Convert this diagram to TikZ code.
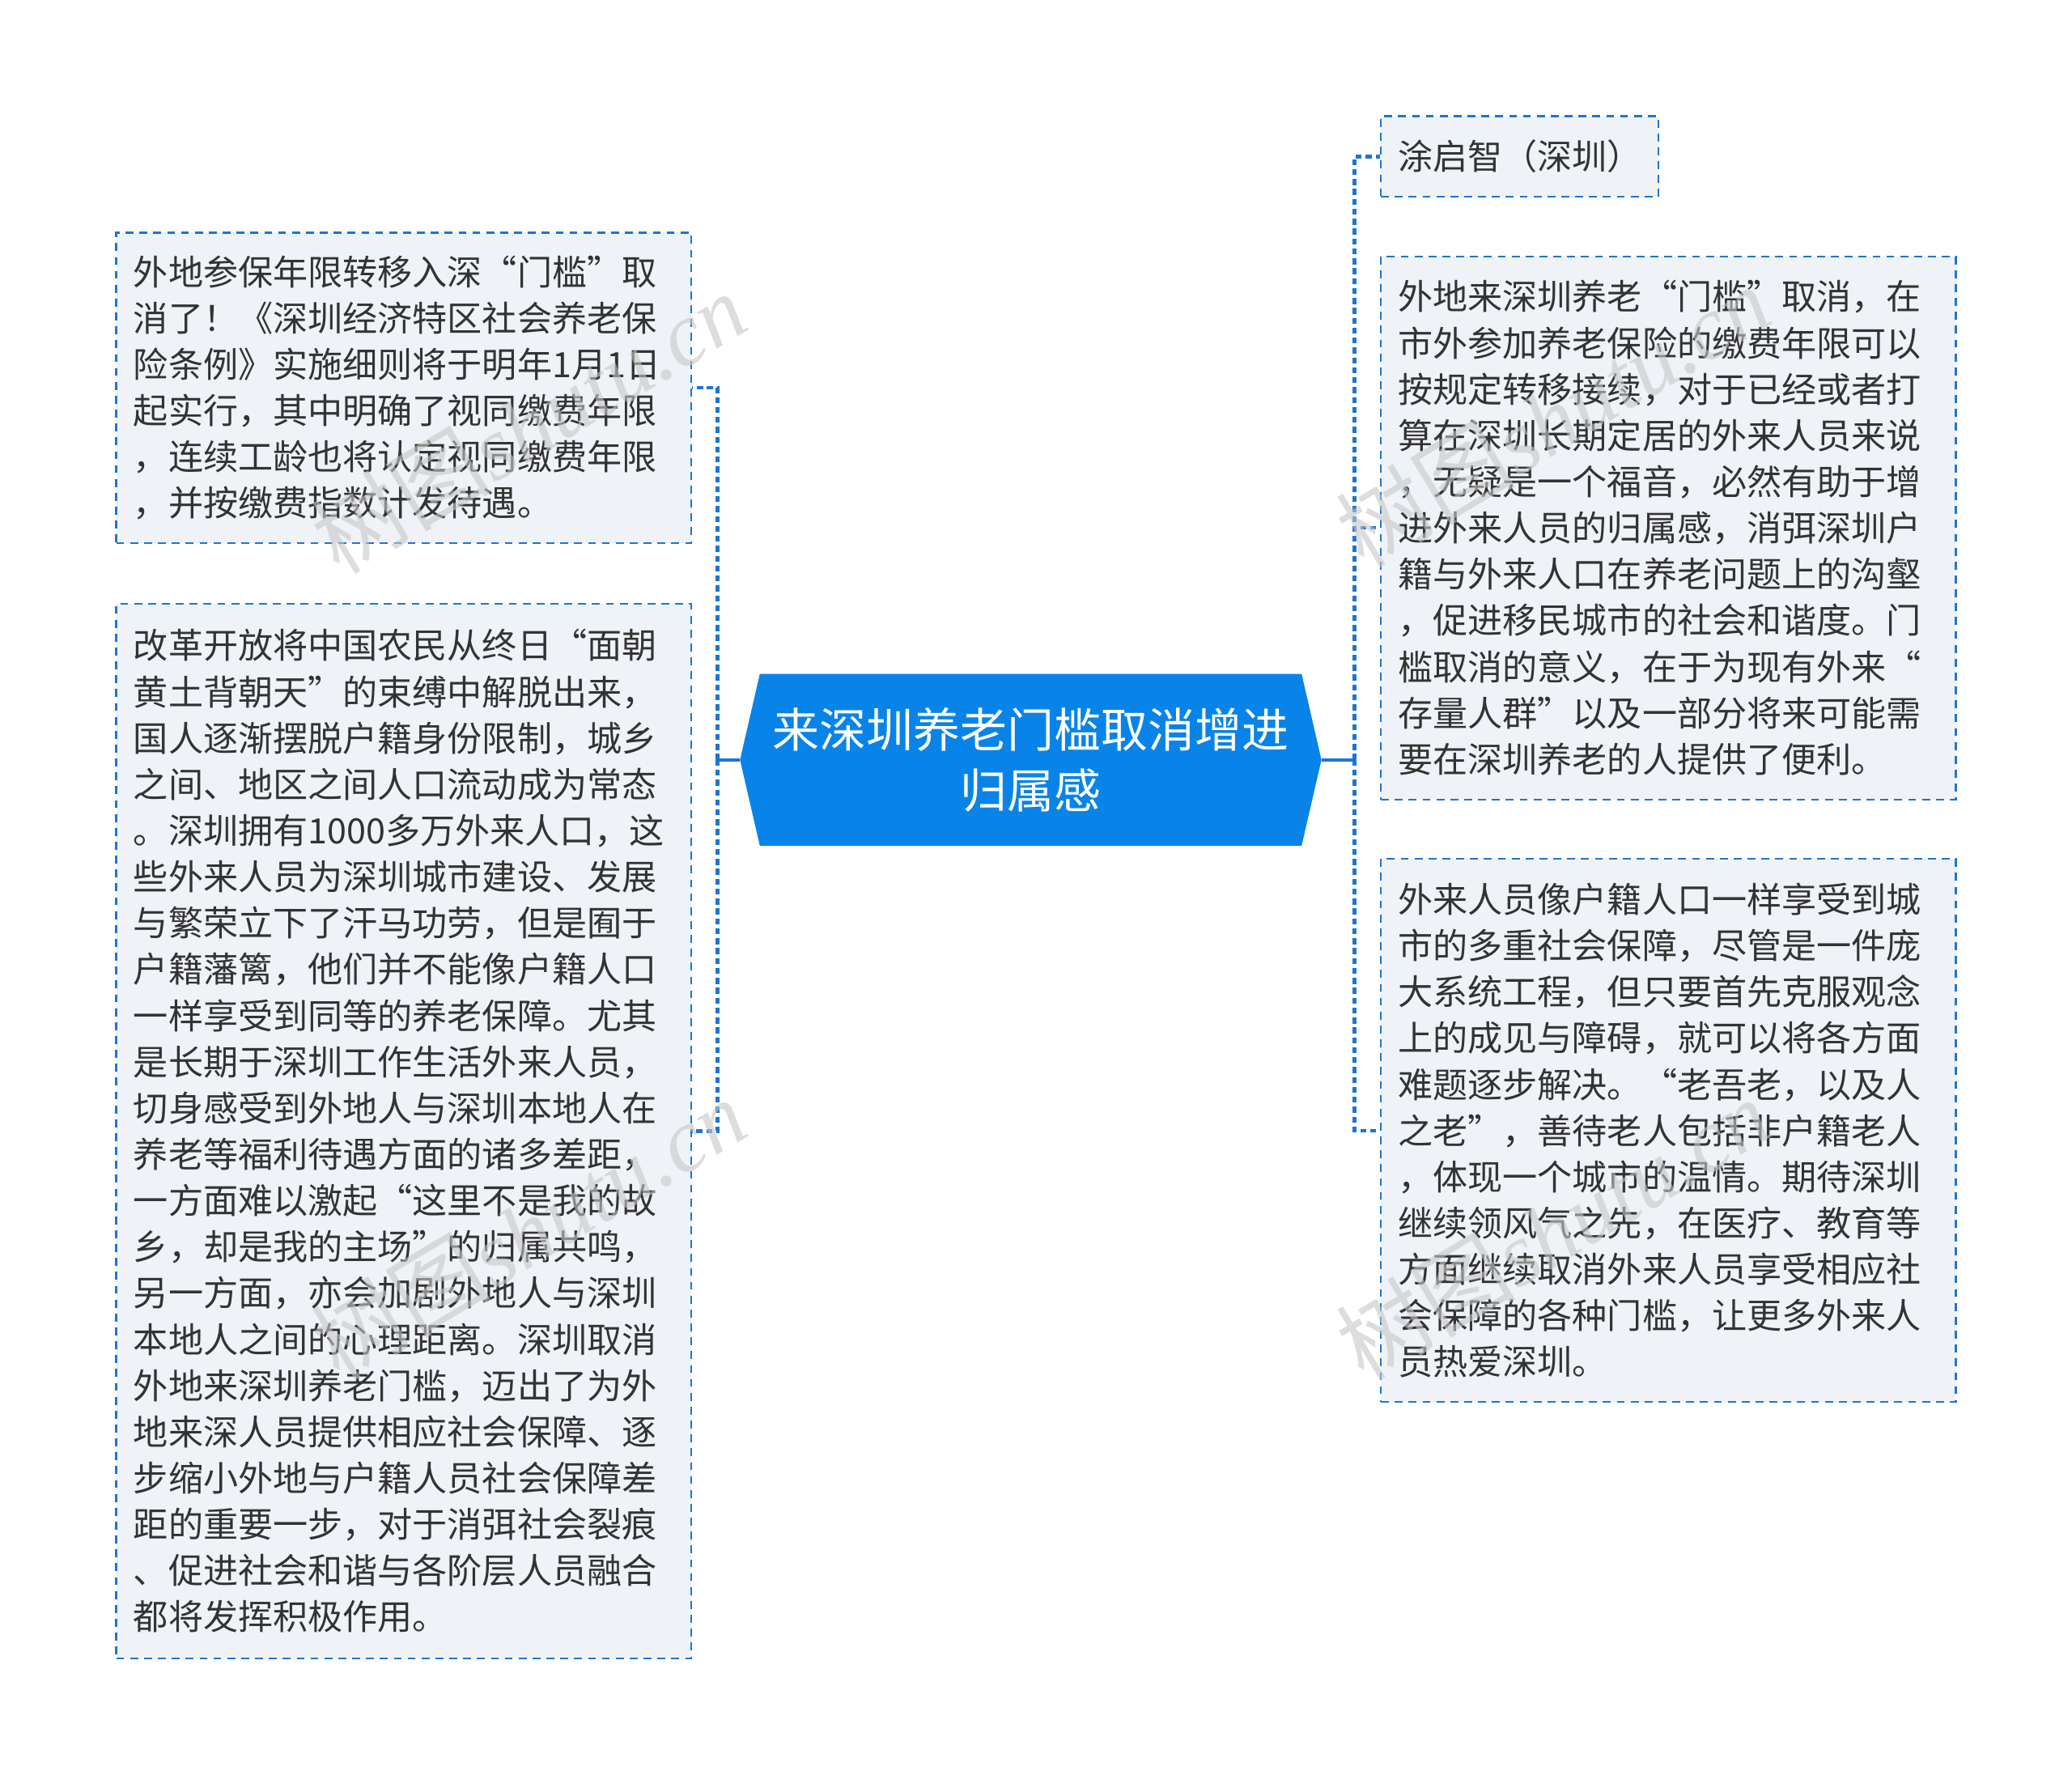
\documentclass[tikz,border=0pt]{standalone}
\usepackage{fontspec}
\usepackage{tikz}
\usetikzlibrary{shapes.symbols,positioning,calc}
\newfontfamily\cjkfont{Noto Sans CJK SC}
\newfontfamily\wmserif{Liberation Serif}
\definecolor{hubblue}{RGB}{8,132,232}
\definecolor{linkblue}{RGB}{28,118,210}
\definecolor{leaffill}{RGB}{239,242,246}
\definecolor{leaftext}{RGB}{51,51,51}
\tikzset{
  leafbox/.style={draw=linkblue, line width=1.5pt, dash pattern=on 6pt off 4.5pt,
    fill=leaffill, text=leaftext, font=\cjkfont\fontsize{26.4}{35}\selectfont,
    align=left, inner xsep=13pt, inner ysep=0pt, minimum width=435pt, text width=409pt},
  hubbox/.style={signal, signal to=west and east, signal pointer angle=154,
    fill=hubblue, text=white, font=\cjkfont\fontsize{35.5}{46}\selectfont,
    align=center, minimum width=440pt, minimum height=130pt, inner sep=0pt},
  linkline/.style={draw=linkblue, line width=2.6pt, dash pattern=on 4.5pt off 3pt},
  hubline/.style={draw=linkblue, line width=2.4pt},
  watermark/.style={text=black!22, opacity=0.6, rotate=31, font=\fontsize{68}{68}\selectfont}
}
\begin{document}
\begin{tikzpicture}[x=1pt,y=-1pt]
    \useasboundingbox (0,0) rectangle (1568,1343);
    % Central topic
    \node[hubbox] (hub) at (780,575) {来深圳养老门槛取消增进\\归属感};

    % Left branch
    \node[leafbox, minimum height=235pt] (ltop) at (305.5,293.5) {外地参保年限转移入深“门槛”取\\消了！《深圳经济特区社会养老保\\险条例》实施细则将于明年1月1日\\起实行，其中明确了视同缴费年限\\，连续工龄也将认定视同缴费年限\\，并按缴费指数计发待遇。};
    \node[leafbox, minimum height=798pt] (lbot) at (305.5,856) {改革开放将中国农民从终日“面朝\\黄土背朝天”的束缚中解脱出来，\\国人逐渐摆脱户籍身份限制，城乡\\之间、地区之间人口流动成为常态\\。深圳拥有1000多万外来人口，这\\些外来人员为深圳城市建设、发展\\与繁荣立下了汗马功劳，但是囿于\\户籍藩篱，他们并不能像户籍人口\\一样享受到同等的养老保障。尤其\\是长期于深圳工作生活外来人员，\\切身感受到外地人与深圳本地人在\\养老等福利待遇方面的诸多差距，\\一方面难以激起“这里不是我的故\\乡，却是我的主场”的归属共鸣，\\另一方面，亦会加剧外地人与深圳\\本地人之间的心理距离。深圳取消\\外地来深圳养老门槛，迈出了为外\\地来深人员提供相应社会保障、逐\\步缩小外地与户籍人员社会保障差\\距的重要一步，对于消弭社会裂痕\\、促进社会和谐与各阶层人员融合\\都将发挥积极作用。};

    % Right branch
    \node[leafbox, minimum height=61pt, minimum width=210pt, text width=184pt, inner xsep=13pt] (rauthor) at (1150,118.5) {涂启智（深圳）};
    \node[leafbox, minimum height=411pt] (rmid) at (1262.5,399.5) {外地来深圳养老“门槛”取消，在\\市外参加养老保险的缴费年限可以\\按规定转移接续，对于已经或者打\\算在深圳长期定居的外来人员来说\\，无疑是一个福音，必然有助于增\\进外来人员的归属感，消弭深圳户\\籍与外来人口在养老问题上的沟壑\\，促进移民城市的社会和谐度。门\\槛取消的意义，在于为现有外来“\\存量人群”以及一部分将来可能需\\要在深圳养老的人提供了便利。};
    \node[leafbox, minimum height=411pt] (rbot) at (1262.5,855.5) {外来人员像户籍人口一样享受到城\\市的多重社会保障，尽管是一件庞\\大系统工程，但只要首先克服观念\\上的成见与障碍，就可以将各方面\\难题逐步解决。“老吾老，以及人\\之老”，善待老人包括非户籍老人\\，体现一个城市的温情。期待深圳\\继续领风气之先，在医疗、教育等\\方面继续取消外来人员享受相应社\\会保障的各种门槛，让更多外来人\\员热爱深圳。};

    % Connectors
    \coordinate (ljoint) at (543,575);
    \coordinate (rjoint) at (1025,575);
    \draw[hubline] (hub.west) -- (ljoint);
    \draw[hubline] (hub.east) -- (rjoint);
    \draw[linkline] (ljoint) |- (ltop.east);
    \draw[linkline] (ljoint) |- (lbot.east);
    \draw[linkline] (rjoint) |- (rauthor.west);
    \draw[linkline] (rjoint) |- (rmid.west);
    \draw[linkline] (rjoint) |- (rbot.west);

    % Watermarks
    \foreach \wx/\wy/\wname in {400/320/wma, 400/930/wmb, 1175/315/wmc, 1175/930/wmd}
        \node[watermark] (\wname) at (\wx,\wy) {\cjkfont 树图{\wmserif\itshape shutu.cn}};
\end{tikzpicture}
\end{document}
